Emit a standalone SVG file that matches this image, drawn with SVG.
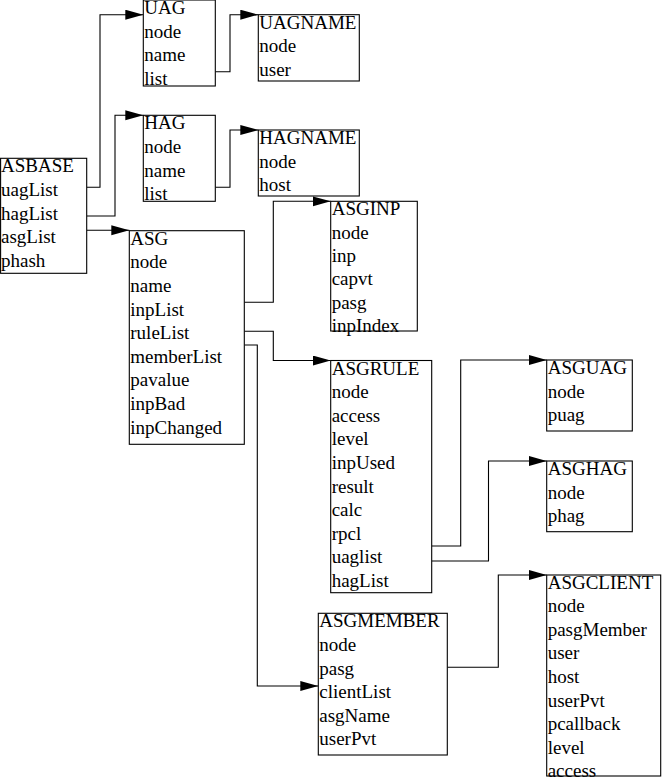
<svg xmlns="http://www.w3.org/2000/svg" width="662" height="780" viewBox="0 0 662 780">
<style>
rect{fill:#fff;stroke:#000;stroke-width:1.1}
text{font-family:"Liberation Serif","Times New Roman",serif;font-size:19px;fill:#000}
.c polyline{fill:none;stroke:#000;stroke-width:1.1;marker-end:url(#ah)}
</style>
<defs>
<marker id="ah" markerUnits="userSpaceOnUse" markerWidth="19" markerHeight="11" refX="18" refY="5" orient="auto">
<path d="M0,0 L18,5 L0,10 Z" fill="#000"/>
</marker>
</defs>
<rect x="0" y="0" width="662" height="780" style="stroke:none"/>
<g class="c" id="connectors">
<polyline points="87,187.3 100,187.3 100,14.7 143.3,14.7"/>
<polyline points="87,216 115,216 115,115.3 143.3,115.3"/>
<polyline points="87,230.3 129.3,230.3"/>
<polyline points="215.3,71.7 230,71.7 230,14.7 258.3,14.7"/>
<polyline points="215.3,187.3 230,187.3 230,130 258.3,130"/>
<polyline points="244.3,302.3 273.3,302.3 273.3,201.3 330.7,201.3"/>
<polyline points="244.3,331.3 273.3,331.3 273.3,360.5 330.7,360.5"/>
<polyline points="244.3,345 257.3,345 257.3,686 318.3,686"/>
<polyline points="431.7,546 460.7,546 460.7,360 546.7,360"/>
<polyline points="431.7,561 488.5,561 488.5,461 546.7,461"/>
<polyline points="447.3,667.3 498.3,667.3 498.3,575 546.7,575"/>
</g>
<g id="UAG">
<rect x="143.3" y="0" width="72" height="86"/>
<text x="144.3" y="14"><tspan x="144.3">UAG</tspan><tspan x="144.3" dy="23.6">node</tspan><tspan x="144.3" dy="23.6">name</tspan><tspan x="144.3" dy="23.6">list</tspan></text>
</g>
<g id="UAGNAME">
<rect x="258.3" y="14.7" width="101" height="66.3"/>
<text x="259.3" y="28.7"><tspan x="259.3">UAGNAME</tspan><tspan x="259.3" dy="23.6">node</tspan><tspan x="259.3" dy="23.6">user</tspan></text>
</g>
<g id="HAG">
<rect x="143.3" y="115.3" width="72" height="86"/>
<text x="144.3" y="129.3"><tspan x="144.3">HAG</tspan><tspan x="144.3" dy="23.6">node</tspan><tspan x="144.3" dy="23.6">name</tspan><tspan x="144.3" dy="23.6">list</tspan></text>
</g>
<g id="HAGNAME">
<rect x="258.3" y="130" width="101" height="66"/>
<text x="259.3" y="144"><tspan x="259.3">HAGNAME</tspan><tspan x="259.3" dy="23.6">node</tspan><tspan x="259.3" dy="23.6">host</tspan></text>
</g>
<g id="ASBASE">
<rect x="0.6" y="158.3" width="86.1" height="115"/>
<text x="1" y="172.3"><tspan x="1">ASBASE</tspan><tspan x="1" dy="23.6">uagList</tspan><tspan x="1" dy="23.6">hagList</tspan><tspan x="1" dy="23.6">asgList</tspan><tspan x="1" dy="23.6">phash</tspan></text>
</g>
<g id="ASG">
<rect x="129.3" y="230.7" width="115" height="213.6"/>
<text x="130.3" y="244.7"><tspan x="130.3">ASG</tspan><tspan x="130.3" dy="23.6">node</tspan><tspan x="130.3" dy="23.6">name</tspan><tspan x="130.3" dy="23.6">inpList</tspan><tspan x="130.3" dy="23.6">ruleList</tspan><tspan x="130.3" dy="23.6">memberList</tspan><tspan x="130.3" dy="23.6">pavalue</tspan><tspan x="130.3" dy="23.6">inpBad</tspan><tspan x="130.3" dy="23.6">inpChanged</tspan></text>
</g>
<g id="ASGINP">
<rect x="330.7" y="201.3" width="86.6" height="129.7"/>
<text x="331.7" y="215.3"><tspan x="331.7">ASGINP</tspan><tspan x="331.7" dy="23.3">node</tspan><tspan x="331.7" dy="23.3">inp</tspan><tspan x="331.7" dy="23.3">capvt</tspan><tspan x="331.7" dy="23.3">pasg</tspan><tspan x="331.7" dy="23.3">inpIndex</tspan></text>
</g>
<g id="ASGRULE">
<rect x="330.7" y="360.5" width="101" height="232.2"/>
<text x="331.7" y="374.5"><tspan x="331.7">ASGRULE</tspan><tspan x="331.7" dy="23.6">node</tspan><tspan x="331.7" dy="23.6">access</tspan><tspan x="331.7" dy="23.6">level</tspan><tspan x="331.7" dy="23.6">inpUsed</tspan><tspan x="331.7" dy="23.6">result</tspan><tspan x="331.7" dy="23.6">calc</tspan><tspan x="331.7" dy="23.6">rpcl</tspan><tspan x="331.7" dy="23.6">uaglist</tspan><tspan x="331.7" dy="23.6">hagList</tspan></text>
</g>
<g id="ASGUAG">
<rect x="546.7" y="360" width="85.6" height="71"/>
<text x="547.7" y="374"><tspan x="547.7">ASGUAG</tspan><tspan x="547.7" dy="23.6">node</tspan><tspan x="547.7" dy="23.6">puag</tspan></text>
</g>
<g id="ASGHAG">
<rect x="546.7" y="461" width="85.6" height="70.7"/>
<text x="547.7" y="475"><tspan x="547.7">ASGHAG</tspan><tspan x="547.7" dy="23.6">node</tspan><tspan x="547.7" dy="23.6">phag</tspan></text>
</g>
<g id="ASGMEMBER">
<rect x="318.3" y="613.3" width="129" height="141.7"/>
<text x="319.3" y="627.3"><tspan x="319.3">ASGMEMBER</tspan><tspan x="319.3" dy="23.6">node</tspan><tspan x="319.3" dy="23.6">pasg</tspan><tspan x="319.3" dy="23.6">clientList</tspan><tspan x="319.3" dy="23.6">asgName</tspan><tspan x="319.3" dy="23.6">userPvt</tspan></text>
</g>
<g id="ASGCLIENT">
<rect x="546.7" y="575" width="114" height="201"/>
<text x="547.7" y="588.5"><tspan x="547.7">ASGCLIENT</tspan><tspan x="547.7" dy="23.6">node</tspan><tspan x="547.7" dy="23.6">pasgMember</tspan><tspan x="547.7" dy="23.6">user</tspan><tspan x="547.7" dy="23.6">host</tspan><tspan x="547.7" dy="23.6">userPvt</tspan><tspan x="547.7" dy="23.6">pcallback</tspan><tspan x="547.7" dy="23.6">level</tspan><tspan x="547.7" dy="23.6">access</tspan></text>
</g>
</svg>
